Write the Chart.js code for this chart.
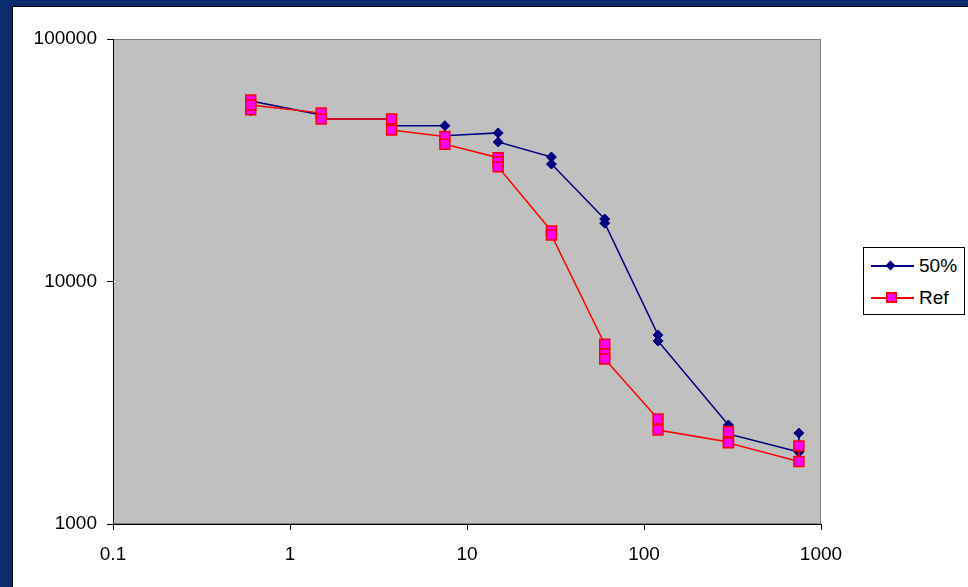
<!DOCTYPE html>
<html lang="en">
<head>
<meta charset="UTF-8">
<title>50% vs Ref</title>
<style>
  body { margin: 0; width: 968px; height: 587px; background: #0b2d70; overflow: hidden; position: relative; font-family: "Liberation Sans", Arial, sans-serif; }
  .panel { position: absolute; left: 12px; top: 6px; width: 956px; height: 581px; background: #fff; border-left: 1px solid #000; border-top: 1px solid #000; }
  #chart { position: absolute; left: 0; top: 0; }
  .legend { position: absolute; left: 850px; top: 240px; width: 100px; height: 66px; border: 1px solid #000; background: #fff; }
  .row { position: absolute; left: 0; height: 22px; width: 100px; }
  .row .ln { position: absolute; left: 7px; top: 10px; width: 43px; height: 2px; }
  .row .mk { position: absolute; }
  .row .tx { position: absolute; left: 55px; top: 0; font-size: 19px; line-height: 22px; color: #000; }
</style>
</head>
<body>
<div class="panel">
  <canvas id="chart" width="955" height="580"></canvas>
  <div class="legend" id="legend"></div>
</div>
<script src="https://cdn.jsdelivr.net/npm/chart.js"></script>
<script>
// series names
const seriesNames = ['50%', 'Ref'];

// 50% series (replicates in plotted order)
const dose50 = [0.6, 0.6, 0.6, 1.5, 1.5, 3.75, 3.75, 7.5, 7.5, 15, 15, 30, 30, 60, 60, 120, 120, 300, 300, 750, 750, 750];
const count50 = [50500, 52900, 55500, 48600, 46800, 46800, 43900, 43900, 39900, 41000, 37600, 32600, 30500, 18100, 17400, 6020, 5680, 2560, 2350, 1980, 2100, 2370];

// Ref series
const doseRef = [0.6, 0.6, 0.6, 1.5, 1.5, 3.75, 3.75, 7.5, 7.5, 15, 15, 15, 30, 30, 60, 60, 60, 120, 120, 300, 300, 300, 750, 750];
const countRef = [56000, 51000, 53400, 49500, 46800, 46800, 42100, 39600, 36800, 32400, 31200, 29700, 16150, 15550, 5520, 5020, 4790, 2710, 2440, 2180, 2400, 2160, 1810, 2100];

// tick labels
const xTicks = [0.1, 1, 10, 100, 1000];
const yTicks = [1000, 10000, 100000];

const colors = { s50: '#000080', refLine: '#ff0000', refFill: '#ff00ff' };

function toPoints(xs, ys) {
  return xs.map(function (x, i) { return { x: x, y: ys[i] }; });
}

// grey plot area with thin border, like the original
const plotBg = {
  id: 'plotBg',
  beforeDraw: function (chart) {
    const a = chart.chartArea;
    const c = chart.ctx;
    c.save();
    c.fillStyle = '#c0c0c0';
    c.fillRect(a.left, a.top, a.right - a.left, a.bottom - a.top);
    c.strokeStyle = '#808080';
    c.lineWidth = 1;
    c.strokeRect(a.left + 0.5, a.top + 0.5, a.right - a.left - 1, a.bottom - a.top - 1);
    c.restore();
  }
};

Chart.defaults.font.family = '"Liberation Sans", Arial, sans-serif';
Chart.defaults.font.size = 19;
Chart.defaults.color = '#000';

const chart = new Chart(document.getElementById('chart'), {
  type: 'scatter',
  data: {
    datasets: [{
      label: seriesNames[0],
      data: toPoints(dose50, count50),
      showLine: true,
      borderColor: colors.s50,
      backgroundColor: colors.s50,
      borderWidth: 1.5,
      pointStyle: 'rectRot',
      pointRadius: 5,
      pointBorderWidth: 1,
      order: 1
    }, {
      label: seriesNames[1],
      data: toPoints(doseRef, countRef),
      showLine: true,
      borderColor: colors.refLine,
      backgroundColor: colors.refFill,
      borderWidth: 1.5,
      pointStyle: 'rect',
      pointRadius: 7,
      pointBorderWidth: 1.5,
      order: 0
    }]
  },
  options: {
    responsive: false,
    animation: false,
    layout: { padding: { top: 32, right: 147, left: 0, bottom: 0 } },
    plugins: { legend: { display: false }, tooltip: { enabled: false } },
    scales: {
      x: {
        type: 'logarithmic',
        min: 0.1,
        max: 1000,
        afterBuildTicks: function (s) { s.ticks = xTicks.map(function (v) { return { value: v }; }); },
        afterFit: function (s) { s.height = 63; },
        ticks: { callback: function (v) { return String(v); }, padding: 13, maxRotation: 0, autoSkip: false },
        grid: { display: true, drawOnChartArea: false, tickLength: 6, color: '#000' },
        border: { color: '#000', width: 1 }
      },
      y: {
        type: 'logarithmic',
        min: 1000,
        max: 100000,
        afterBuildTicks: function (s) { s.ticks = yTicks.map(function (v) { return { value: v }; }); },
        afterFit: function (s) { s.width = 100; },
        ticks: { callback: function (v) { return String(v); }, padding: 10, autoSkip: false },
        grid: { display: true, drawOnChartArea: false, tickLength: 6, color: '#000' },
        border: { color: '#000', width: 1 }
      }
    }
  },
  plugins: [plotBg]
});

// legend: line with marker, then the name
const legend = document.getElementById('legend');
chart.data.datasets.forEach(function (ds, i) {
  const row = document.createElement('div');
  row.className = 'row';
  row.style.top = (i === 0 ? 7 : 39) + 'px';
  const ln = document.createElement('div');
  ln.className = 'ln';
  ln.style.background = ds.borderColor;
  const mk = document.createElement('div');
  mk.className = 'mk';
  if (ds.pointStyle === 'rectRot') {
    mk.style.cssText = 'left:23px;top:7px;width:7px;height:7px;background:' + ds.backgroundColor + ';transform:rotate(45deg);';
  } else {
    mk.style.cssText = 'left:22px;top:5px;width:7px;height:7px;background:' + ds.backgroundColor + ';border:2px solid ' + ds.borderColor + ';';
  }
  const tx = document.createElement('div');
  tx.className = 'tx';
  tx.textContent = ds.label;
  row.appendChild(ln);
  row.appendChild(mk);
  row.appendChild(tx);
  legend.appendChild(row);
});
</script>
</body>
</html>
